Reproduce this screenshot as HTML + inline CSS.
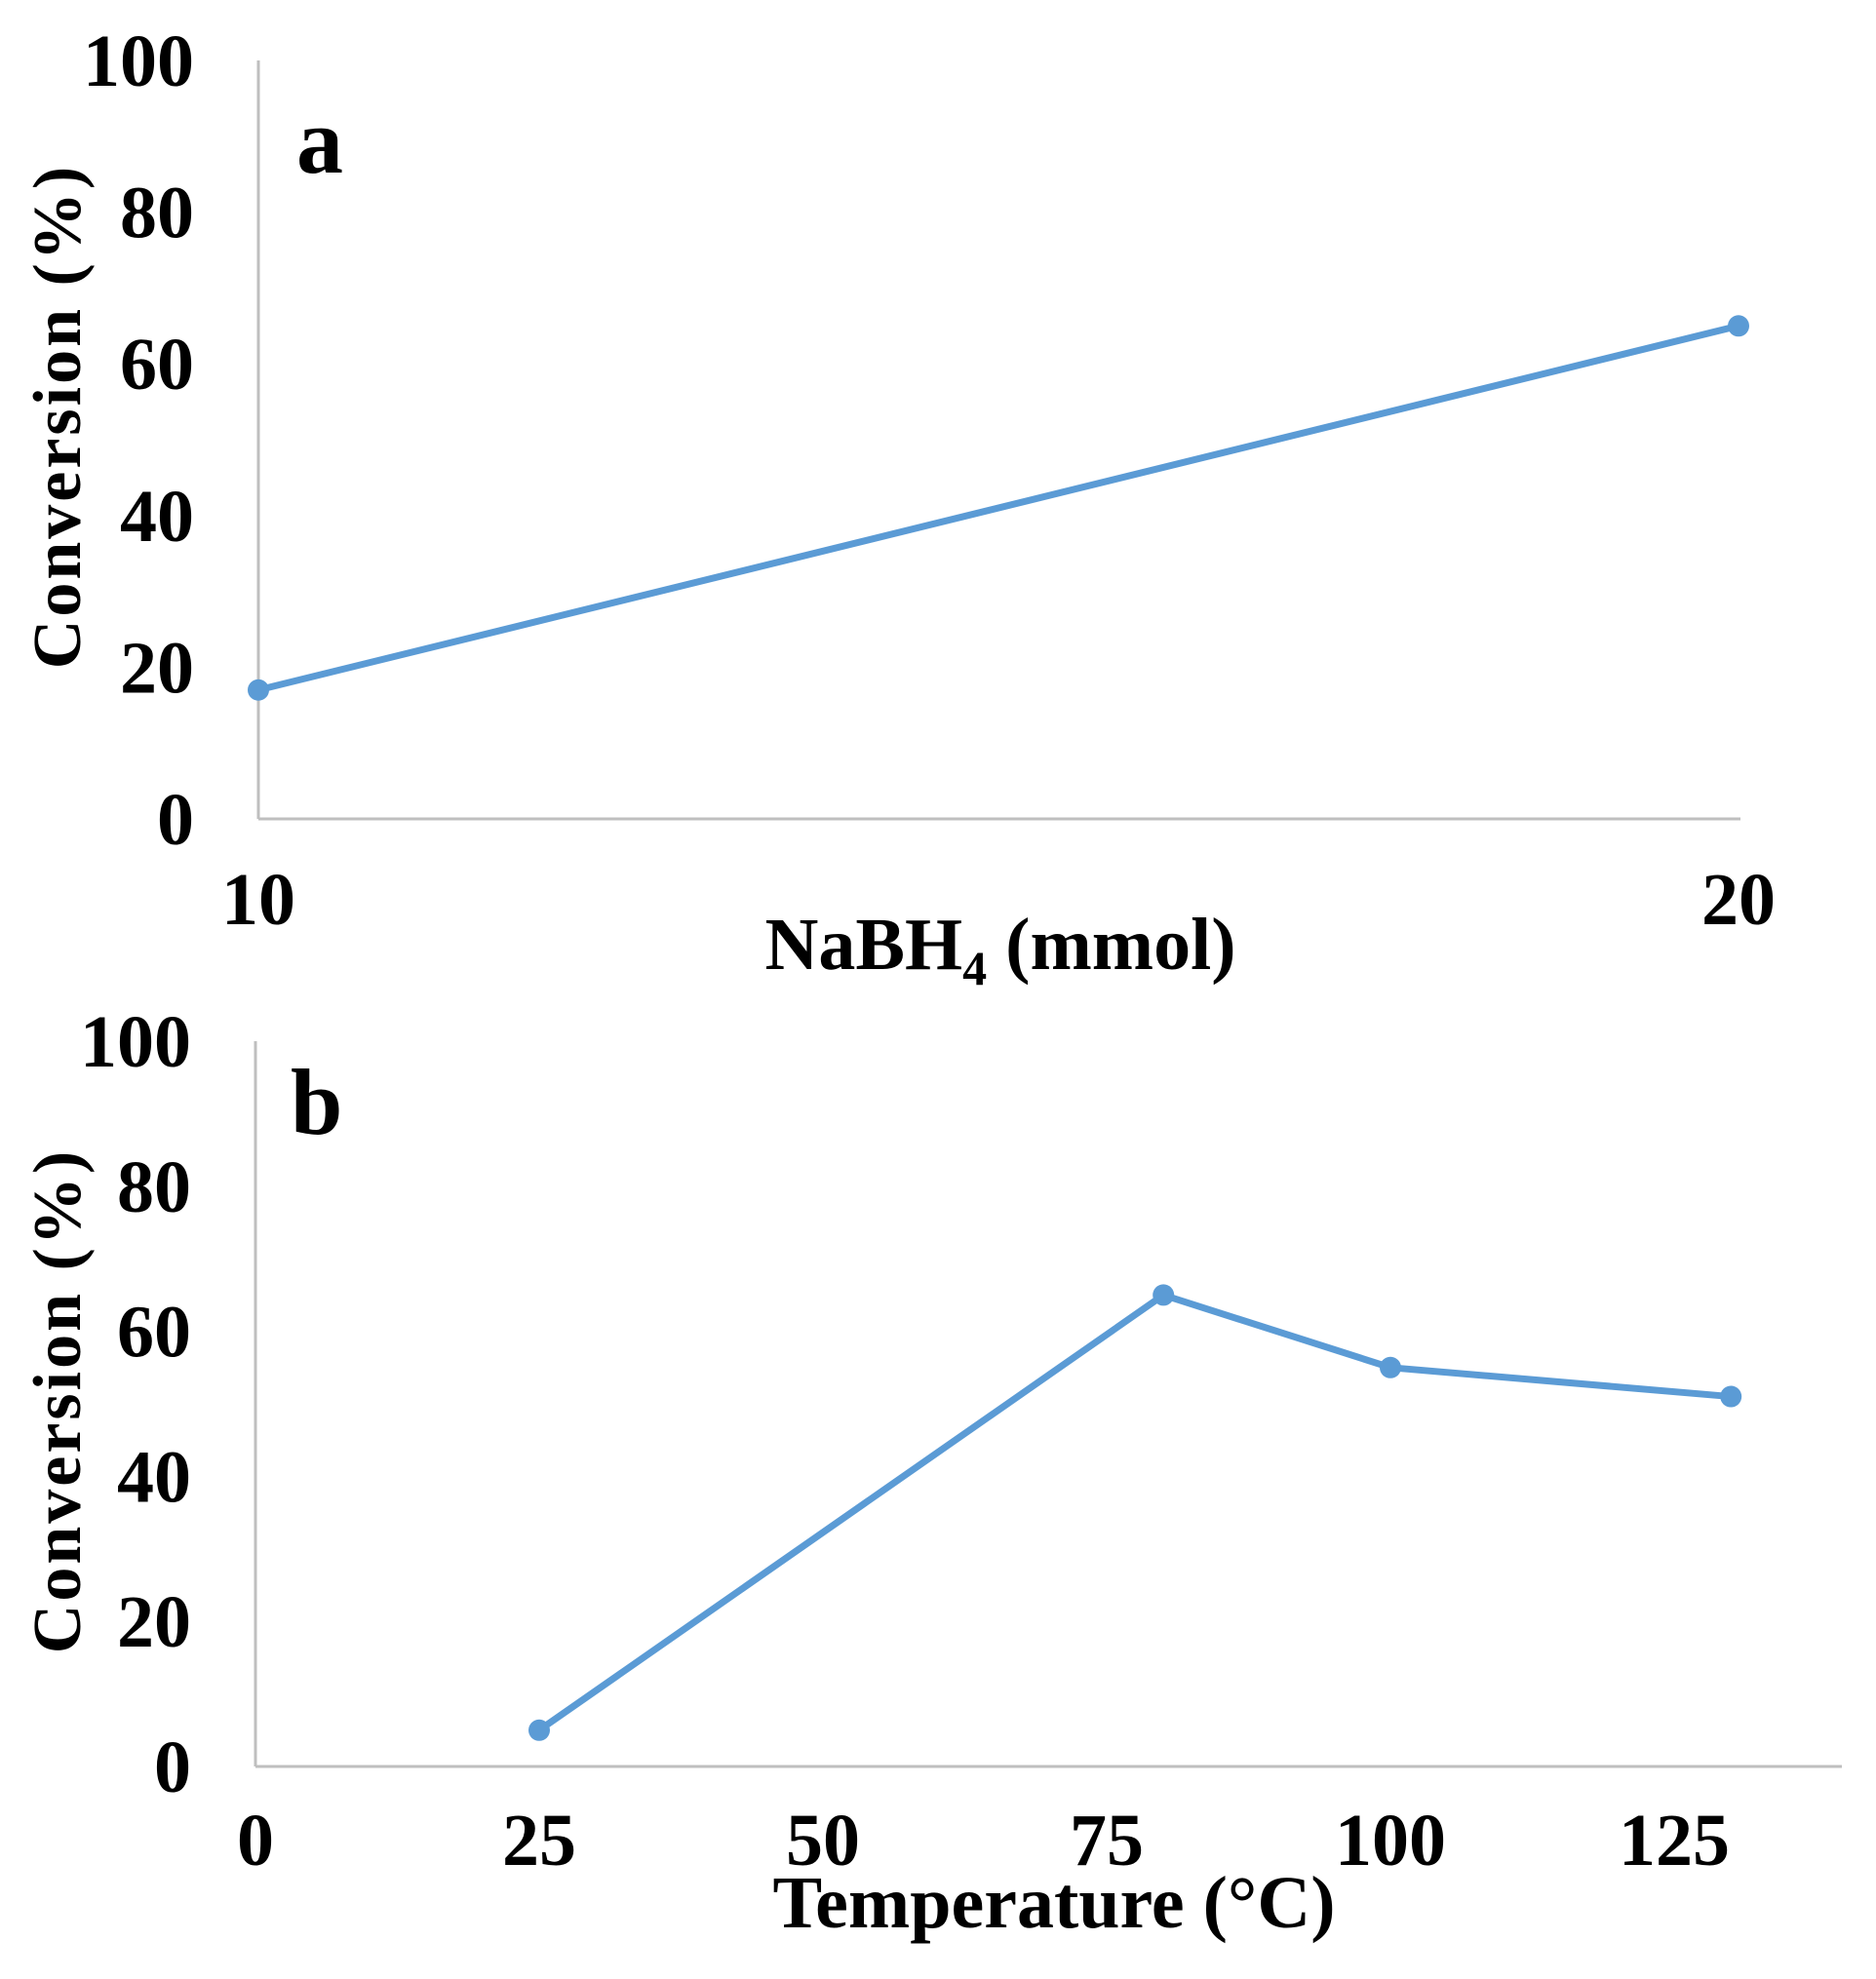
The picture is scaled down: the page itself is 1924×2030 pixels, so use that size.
<!DOCTYPE html>
<html><head><meta charset="utf-8"><style>
html,body{margin:0;padding:0;background:#fff;}
svg{display:block;}
text{font-family:"Liberation Serif",serif;font-weight:bold;fill:#000;}
</style></head><body>
<svg id="chart" width="1924" height="2030" viewBox="0 0 1924 2030">
<g id="pa"></g>
<g id="pb"></g>
</svg>
<script>
const aX = [10, 20];
const aY = [17, 65];
const aXTicks = [10, 20];
const bX = [25, 80, 100, 130];
const bY = [5, 65, 55, 51];
const bXTicks = [0, 25, 50, 75, 100, 125];
const yTicks = [0, 20, 40, 60, 80, 100];

const NS = "http://www.w3.org/2000/svg";
function mk(parent, tag, attrs, text) {
  const e = document.createElementNS(NS, tag);
  for (const k in attrs) e.setAttribute(k, attrs[k]);
  if (text !== undefined) e.textContent = text;
  parent.appendChild(e);
  return e;
}
function panel(g, cfg) {
  const sx = v => cfg.x0 + (v - cfg.xmin) / (cfg.xmax - cfg.xmin) * (cfg.x1 - cfg.x0);
  const sy = v => cfg.y0 - v / 100 * (cfg.y0 - cfg.yTop);
  let e;
  e = mk(g, 'line', {x1: cfg.x0, y1: cfg.yTop, x2: cfg.x0, y2: cfg.y0, stroke: '#bfbfbf', 'stroke-width': 3});
  
  
  e = mk(g, 'line', {x1: cfg.x0, y1: cfg.y0, x2: cfg.axisRight, y2: cfg.y0, stroke: '#bfbfbf', 'stroke-width': 3});
  
  
  yTicks.forEach(t => {
    e = mk(g, 'text', {x: cfg.x0 - 66, y: sy(t) + 26, 'text-anchor': 'end', 'font-size': 76}, String(t));
    
    
  });
  cfg.xTicks.forEach(t => {
    e = mk(g, 'text', {x: sx(t), y: cfg.xTickY, 'text-anchor': 'middle', 'font-size': 76}, String(t));
    
    
  });
  const pts = cfg.xs.map((x, i) => sx(x) + ',' + sy(cfg.ys[i])).join(' ');
  e = mk(g, 'polyline', {points: pts, fill: 'none', stroke: '#5b9bd5', 'stroke-width': 7, 'stroke-linejoin': 'round'});
  
  
  cfg.xs.forEach((x, i) => {
    e = mk(g, 'circle', {cx: sx(x), cy: sy(cfg.ys[i]), r: 11, fill: '#5b9bd5'});
    
    
  });
  e = mk(g, 'text', {x: 0, y: 0, 'text-anchor': 'middle', 'font-size': 70, 'letter-spacing': 3, transform: 'translate(' + 82 + ',' + cfg.yTitleY + ') rotate(-90)'}, 'Conversion (%)');
  
  
  e = mk(g, 'text', {x: cfg.labelX, y: cfg.labelY, 'font-size': 96}, cfg.label);
  
  
}
const pa = document.getElementById('pa');
panel(pa, {x0: 265, x1: 1783, xmin: 10, xmax: 20, axisRight: 1785, y0: 840, yTop: 62,
  xs: aX, ys: aY, xTicks: aXTicks, xTickY: 948, yTitleY: 427, label: 'a', labelX: 304, labelY: 177});
const ta = mk(pa, 'text', {x: 1026, y: 994, 'text-anchor': 'middle', 'font-size': 76});


ta.innerHTML = 'NaBH<tspan font-size="50" dy="16">4</tspan><tspan dy="-16"> (mmol)</tspan>';

const pb = document.getElementById('pb');
panel(pb, {x0: 262, x1: 1717, xmin: 0, xmax: 125, axisRight: 1889, y0: 1812, yTop: 1068,
  xs: bX, ys: bY, xTicks: bXTicks, xTickY: 1913, yTitleY: 1437, label: 'b', labelX: 298, labelY: 1163});
const tb = mk(pb, 'text', {x: 1081, y: 1977, 'text-anchor': 'middle', 'font-size': 76}, 'Temperature (°C)');


</script>
</body></html>
